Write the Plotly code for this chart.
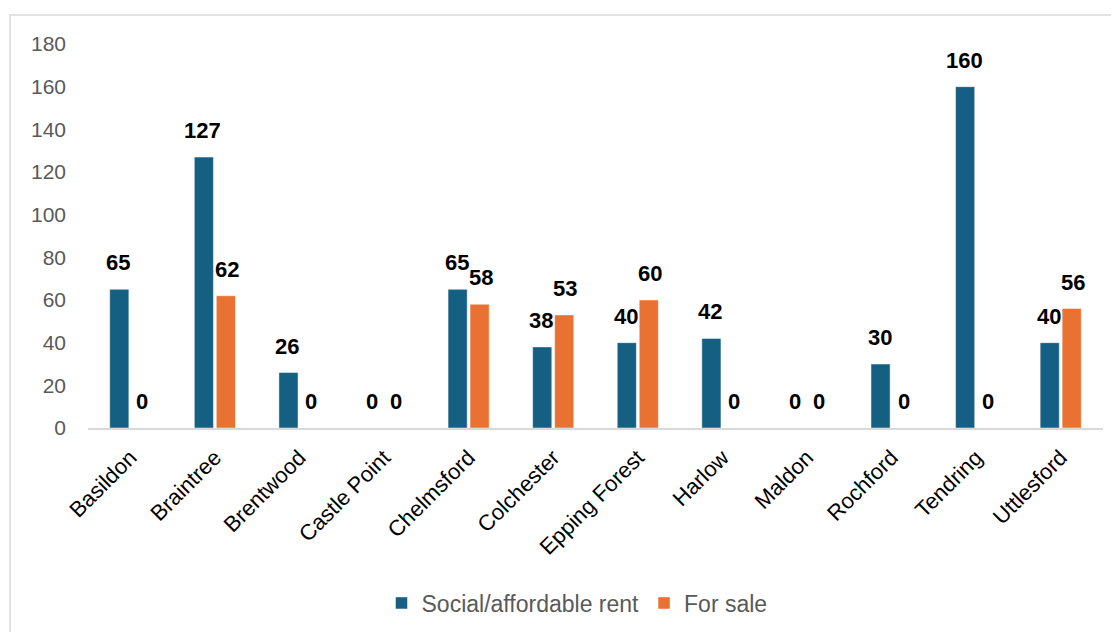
import plotly.graph_objects as go

categories = ["Basildon", "Braintree", "Brentwood", "Castle Point", "Chelmsford", "Colchester",
              "Epping Forest", "Harlow", "Maldon", "Rochford", "Tendring", "Uttlesford"]
social_rent = [65, 127, 26, 0, 65, 38, 40, 42, 0, 30, 160, 40]
for_sale = [0, 62, 0, 0, 58, 53, 60, 0, 0, 0, 0, 56]
series_names = ["Social/affordable rent", "For sale"]
colors = ["#156082", "#E97132"]

W, H = 1119, 632
OFF = 8  # page body margin
ml, mt = 88 - OFF, 44 - OFF
pr, pb = 1103 - OFF, 428 - OFF
mr, mb = W - pr, H - pb
pw, ph = pr - ml, pb - mt

FONT = "Liberation Sans, Arial, sans-serif"

fig = go.Figure()
for name, vals, col in zip(series_names, [social_rent, for_sale], colors):
    fig.add_trace(go.Bar(x=categories, y=vals, name=name, marker_color=col,
                         marker_line=dict(color="rgba(255,255,255,0.6)", width=0.8)))

bar_off = 12
annotations = []
for vals, sh in [(social_rent, -bar_off), (for_sale, bar_off)]:
    for c, v in zip(categories, vals):
        annotations.append(dict(x=c, y=v, xref="x", yref="y", text=f"<b>{v}</b>", showarrow=False,
                                xshift=sh, yshift=12, yanchor="bottom",
                                font=dict(family=FONT, size=22, color="#000000")))

fig.update_layout(
    width=W, height=H,
    margin=dict(l=ml, r=mr, t=mt, b=mb),
    paper_bgcolor="white", plot_bgcolor="white",
    barmode="group", bargap=0.48, bargroupgap=0.13,
    annotations=annotations,
    showlegend=True,
    legend=dict(orientation="h", x=(577 - OFF - ml) / pw, xanchor="center",
                y=-(603 - OFF - pb) / ph, yanchor="middle",
                font=dict(family=FONT, size=23, color="#595959"),
                itemwidth=30, traceorder="normal"),
    font=dict(family=FONT),
    shapes=[dict(type="rect", xref="paper", yref="paper",
                 x0=(10 - OFF - ml) / pw, x1=(W + 20 - ml) / pw,
                 y0=-(H + 20 - pb) / ph, y1=1 + (mt - (15 - OFF)) / ph,
                 line=dict(color="#D9D9D9", width=1.5), fillcolor="rgba(0,0,0,0)", layer="below")],
)
fig.update_xaxes(showline=True, linecolor="#D9D9D9", linewidth=2, showgrid=False, ticks="",
                 tickangle=-45, ticklabelstandoff=6,
                 tickfont=dict(family=FONT, size=22, color="#000000"))
fig.update_yaxes(range=[0, 180], dtick=20, showgrid=False, zeroline=False, showline=False,
                 tickfont=dict(family=FONT, size=21, color="#595959"), ticklabelstandoff=21)

fig.write_html("out.html")
